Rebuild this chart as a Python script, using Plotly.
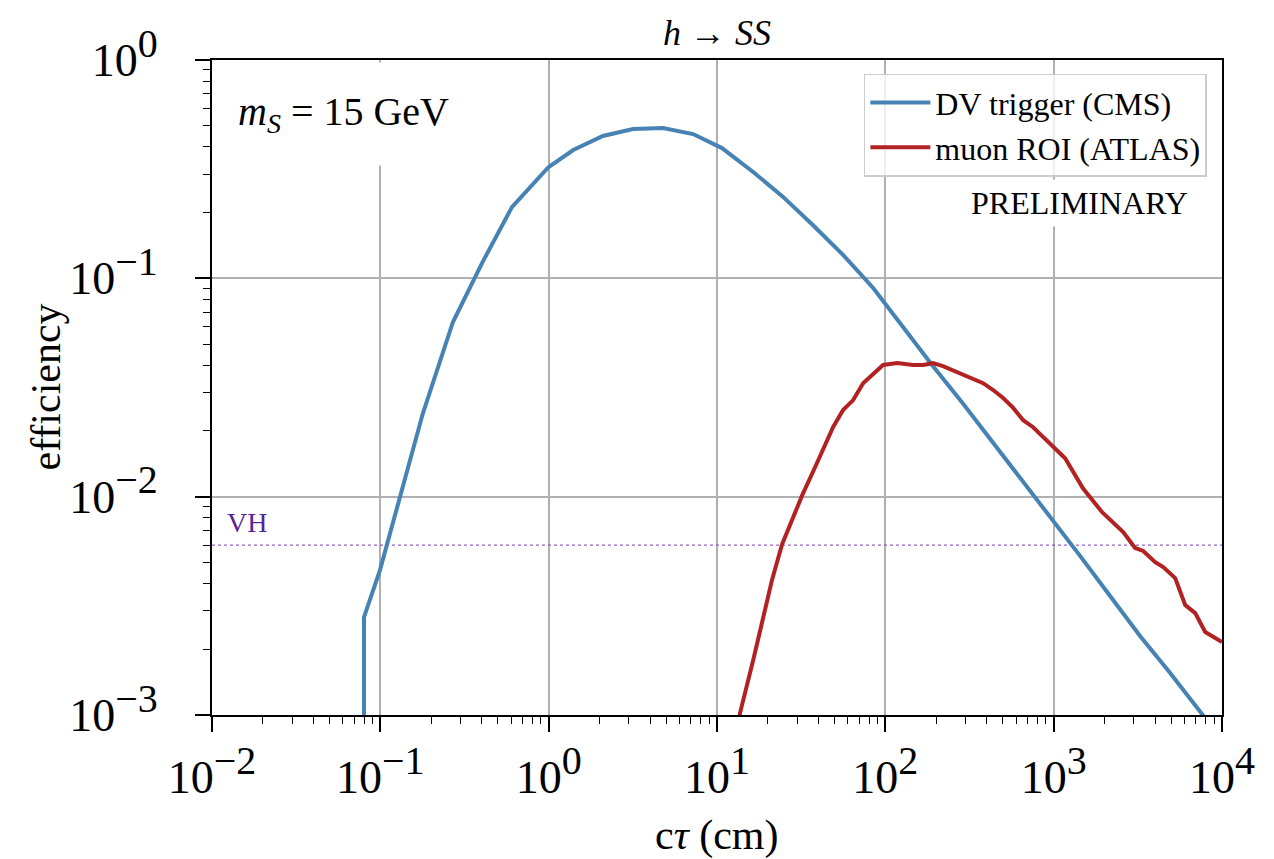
import plotly.graph_objects as go

# ---- data ----
dv_ctau = [0.08, 0.08, 0.0995, 0.179, 0.270, 0.402, 0.605, 1.0, 1.40, 2.10, 3.17, 4.78,
           7.21, 10.7, 16.4, 24.7, 37.2, 56.1, 84.7, 127, 190, 286, 429, 643, 965,
           1450, 2170, 3260, 4880, 7330, 10000]
dv_eff = [0.0001, 0.00281, 0.00461, 0.0241, 0.0631, 0.1175, 0.212, 0.3235, 0.387, 0.449,
          0.483, 0.488, 0.458, 0.395, 0.307, 0.236, 0.175, 0.128, 0.0903, 0.060, 0.040,
          0.027, 0.018, 0.012, 0.0079, 0.0053, 0.0035, 0.0023, 0.00157, 0.00104, 0.00077]

mu_ctau = [12.9, 13.7, 16.4, 21.2, 24.4, 32.1, 38.3, 49.0, 56.1, 64.4, 73.8, 97.0, 117.5,
           146, 168, 192, 220, 267, 319, 381, 437, 501, 575, 659, 755, 953, 1170, 1496,
           1940, 2588, 3048, 3404, 4010, 4476, 5272, 6043, 6934, 7950, 9120, 10000]
mu_eff = [0.0008, 0.00102, 0.00178, 0.00414, 0.00607, 0.01016, 0.01367, 0.02085, 0.02493,
          0.0277, 0.0331, 0.0401, 0.0409, 0.0401, 0.0401, 0.0409, 0.0396, 0.0372, 0.0353,
          0.0331, 0.0308, 0.0283, 0.0255, 0.0224, 0.0208, 0.0176, 0.0150, 0.0109, 0.00849,
          0.00688, 0.00582, 0.00564, 0.00501, 0.00476, 0.00424, 0.00319, 0.00293, 0.00240,
          0.00225, 0.00216]

vh_eff = 0.006
x_limits = [1e-2, 1e4]

x_exponents = ["\u22122", "\u22121", "0", "1", "2", "3", "4"]
x_tick_vals = [1e-2, 1e-1, 1e0, 1e1, 1e2, 1e3, 1e4]
y_exponents = ["\u22123", "\u22122", "\u22121", "0"]
y_tick_vals = [1e-3, 1e-2, 1e-1, 1e0]

FONT = "Liberation Serif"
BLUE = "#4682b4"
RED = "#b22222"
PURPLE = "#7a3db8"


def pow_label(exp):
    return "10<sup><span style='font-size:40px'>" + exp + "</span></sup>"


fig = go.Figure()
fig.add_trace(go.Scatter(x=x_limits, y=[vh_eff, vh_eff], mode="lines",
                         line=dict(color=PURPLE, width=1, dash="dot"),
                         showlegend=False, hoverinfo="skip"))
fig.add_trace(go.Scatter(x=dv_ctau, y=dv_eff, mode="lines", name="DV trigger (CMS)",
                         line=dict(color=BLUE, width=4)))
fig.add_trace(go.Scatter(x=mu_ctau, y=mu_eff, mode="lines", name="muon ROI (ATLAS)",
                         line=dict(color=RED, width=4)))


def minor_vals(lo, hi):
    out = []
    for e in range(lo, hi):
        for m in range(2, 10):
            out.append(m * 10 ** e)
    return out


axis_common = dict(
    type="log", showline=True, linecolor="black", linewidth=2, mirror=True,
    ticks="outside", ticklen=15, tickwidth=1.8, tickcolor="black",
    showgrid=True, gridcolor="#b0b0b0", gridwidth=1.6, zeroline=False,
    tickfont=dict(family=FONT, size=46, color="black"),
)

fig.update_xaxes(**axis_common, range=[-2, 4], tickmode="array",
                 tickvals=x_tick_vals, ticktext=[pow_label(e) for e in x_exponents],
                 ticklabelstandoff=6,
                 minor=dict(tickmode="array", tickvals=minor_vals(-2, 4), ticks="outside",
                            ticklen=7, tickwidth=1.2, tickcolor="black", showgrid=False))
fig.update_yaxes(**axis_common, range=[-3, 0], tickmode="array",
                 tickvals=y_tick_vals, ticktext=[pow_label(e) for e in y_exponents],
                 ticklabelstandoff=28,
                 minor=dict(tickmode="array", tickvals=minor_vals(-3, 0), ticks="outside",
                            ticklen=7, tickwidth=1.2, tickcolor="black", showgrid=False))

fig.update_layout(
    width=1274, height=859,
    margin=dict(l=212, r=52, t=60, b=144),
    paper_bgcolor="white", plot_bgcolor="white",
    font=dict(family=FONT, color="black"),
    showlegend=True,
    legend=dict(x=0.985, y=0.979, xanchor="right", yanchor="top",
                bgcolor="rgba(255,255,255,0.8)", bordercolor="#cccccc", borderwidth=1.5,
                font=dict(family=FONT, size=32, color="black"),
                itemwidth=60, tracegroupgap=4),
)

annotations = [
    dict(text="<i>h</i> \u2192 <i>SS</i>", xref="paper", yref="paper", x=0.5, y=1 + 27 / 655,
         xanchor="center", yanchor="middle", showarrow=False,
         font=dict(family=FONT, size=36, color="black")),
    dict(text="<i>m<sub>S</sub></i> = 15 GeV", xref="paper", yref="paper",
         x=(232 - 212) / 1010, y=1 - 2 / 655, xanchor="left", yanchor="top",
         width=270, height=92, align="left", valign="middle", bgcolor="white", borderpad=5,
         showarrow=False, font=dict(family=FONT, size=40, color="black")),
    dict(text="PRELIMINARY", xref="paper", yref="paper",
         x=(1194 - 212) / 1010, y=1 - (203 - 60) / 655, xanchor="right", yanchor="middle",
         bgcolor="white", borderpad=5, showarrow=False,
         font=dict(family=FONT, size=32, color="black")),
    dict(text="VH", xref="paper", yref="paper",
         x=(225 - 212) / 1010, y=1 - (522 - 60) / 655, xanchor="left", yanchor="middle",
         showarrow=False, font=dict(family=FONT, size=28, color="#5b1f9a")),
    dict(text="c<i>\u03c4</i> (cm)", xref="paper", yref="paper",
         x=0.5, y=1 - (835 - 60) / 655, xanchor="center", yanchor="middle",
         showarrow=False, font=dict(family=FONT, size=42, color="black")),
    dict(text="efficiency", xref="paper", yref="paper",
         x=(45 - 212) / 1010, y=0.5, xanchor="center", yanchor="middle", textangle=-90,
         showarrow=False, font=dict(family=FONT, size=42, color="black")),
]
fig.update_layout(annotations=annotations)

fig.write_html("out.html", config={"displayModeBar": False},
               post_script="document.body.style.margin='0';")
